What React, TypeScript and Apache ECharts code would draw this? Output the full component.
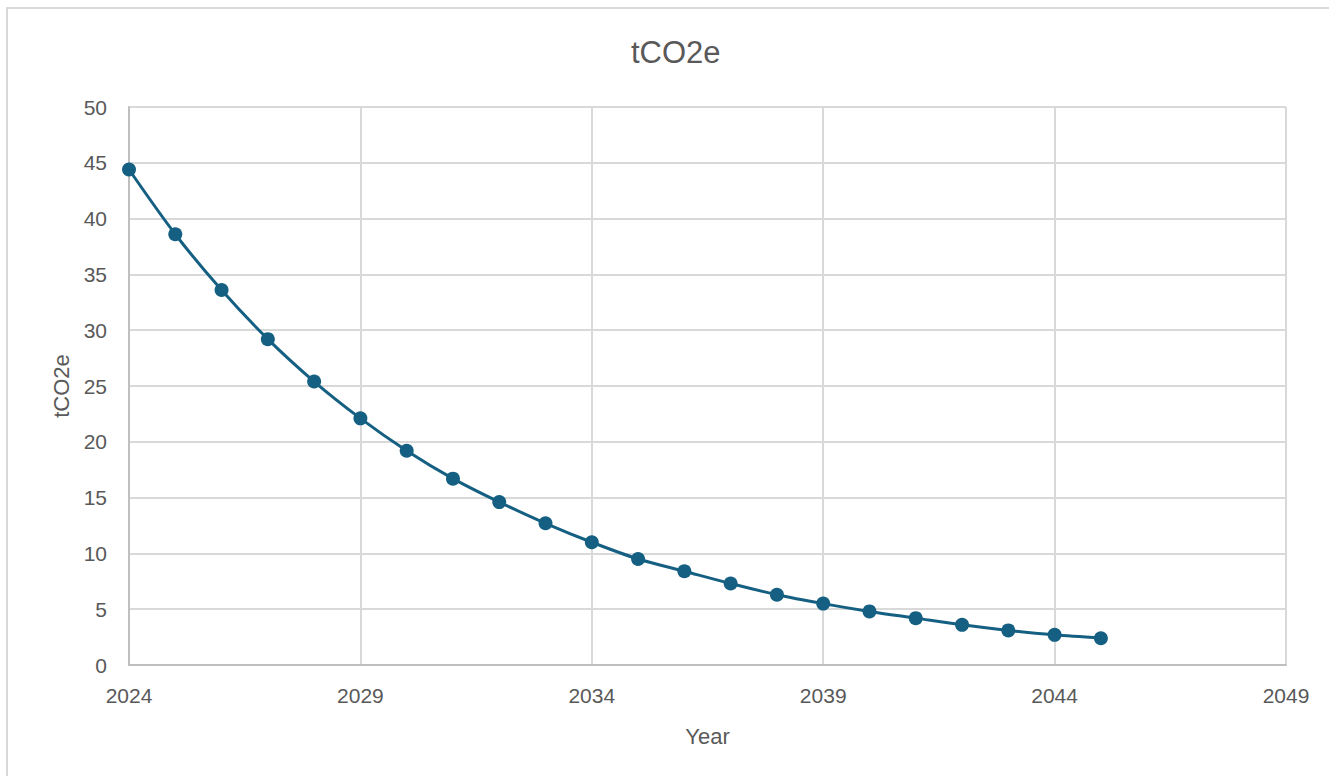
import React, { useEffect, useRef } from "react";
import * as echarts from "echarts";

const years: string[] = [
  "2024", "2025", "2026", "2027", "2028", "2029", "2030", "2031", "2032", "2033",
  "2034", "2035", "2036", "2037", "2038", "2039", "2040", "2041", "2042", "2043",
  "2044", "2045", "2046", "2047", "2048", "2049",
];
const emissions: number[] = [
  44.4, 38.6, 33.6, 29.2, 25.4, 22.1, 19.2, 16.7, 14.6, 12.7,
  11.0, 9.5, 8.4, 7.3, 6.3, 5.5, 4.8, 4.2, 3.6, 3.1, 2.7, 2.4,
];
const yTicks = { min: 0, max: 50, interval: 5 };
const titleText = "tCO2e";
const xName = "Year";
const yName = "tCO2e";

const FONT = "'Liberation Sans', Arial, sans-serif";
const TEXT = "#595959";

export default function App() {
  const ref = useRef<HTMLDivElement>(null);
  useEffect(() => {
    if (!ref.current) return;
    const chart = echarts.init(ref.current, null, { renderer: "svg" });
    chart.setOption({
      animation: false,
      backgroundColor: "#ffffff",
      textStyle: { fontFamily: FONT },
      title: {
        text: titleText,
        left: 626,
        top: 32,
        textStyle: { fontFamily: FONT, fontSize: 31, fontWeight: "normal", color: TEXT },
      },
      graphic: [
        {
          type: "rect",
          shape: { x: 7, y: 8, width: 1400, height: 900 },
          style: { fill: "none", stroke: "#d9d9d9", lineWidth: 2 },
          silent: true,
          z: -1,
        },
      ],
      grid: { left: 129, right: 43, top: 107, bottom: 111, containLabel: false },
      xAxis: {
        type: "category",
        data: years,
        boundaryGap: false,
        name: xName,
        nameLocation: "middle",
        nameGap: 60,
        nameTextStyle: { fontFamily: FONT, fontSize: 22, color: TEXT },
        axisLine: { lineStyle: { color: "#bfbfbf", width: 2 } },
        axisTick: { show: false },
        axisLabel: { interval: 4, margin: 20, fontFamily: FONT, fontSize: 21, color: TEXT },
        splitLine: { show: true, interval: 4, lineStyle: { color: "#d9d9d9", width: 2 } },
      },
      yAxis: {
        type: "value",
        min: yTicks.min,
        max: yTicks.max,
        interval: yTicks.interval,
        name: yName,
        nameLocation: "middle",
        nameGap: 57,
        nameTextStyle: { fontFamily: FONT, fontSize: 22, color: TEXT },
        axisLine: { show: true, lineStyle: { color: "#bfbfbf", width: 2 } },
        axisTick: { show: false },
        axisLabel: { margin: 22, fontFamily: FONT, fontSize: 21, color: TEXT },
        splitLine: { show: true, lineStyle: { color: "#d9d9d9", width: 2 } },
      },
      series: [
        {
          type: "line",
          data: emissions,
          smooth: 0.3,
          symbol: "circle",
          symbolSize: 14,
          lineStyle: { color: "#156082", width: 3 },
          itemStyle: { color: "#156082" },
        },
      ],
    });
    return () => chart.dispose();
  }, []);
  return (
    <div
      ref={ref}
      style={{ position: "fixed", left: 0, top: 0, width: 1329, height: 776 }}
    />
  );
}
